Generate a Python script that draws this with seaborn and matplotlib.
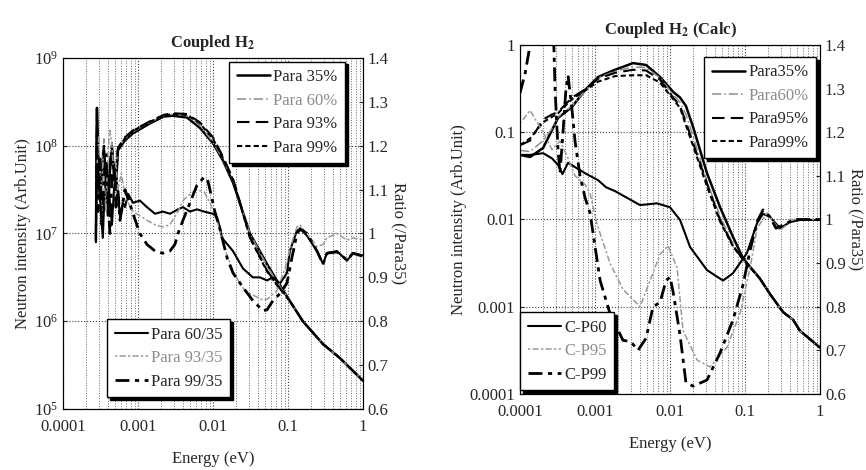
import matplotlib
matplotlib.use("Agg")
import matplotlib.pyplot as plt
from matplotlib.ticker import LogLocator, NullLocator
import seaborn as sns

# ---- left panel: measured spectra (Coupled H2) ----
e_spec_left = [2.75e-4, 2.84e-4, 2.93e-4, 3.11e-4, 3.31e-4, 3.52e-4, 3.74e-4, 3.98e-4,
               4.23e-4, 4.5e-4, 4.79e-4, 5.09e-4, 5.41e-4, 6.7e-4, 8.6e-4, 1.45e-3,
               2.2e-3, 2.9e-3, 4.5e-3, 6.7e-3, 1.0e-2, 1.36e-2, 1.85e-2, 2.09e-2,
               3.11e-2, 5.25e-2, 7.13e-2, 0.106, 0.158, 0.293, 0.494, 1.0]
para35 = [8.3e6, 2.7e8, 6.8e7, 2.4e7, 4.6e7, 8.9e7, 3.1e7, 1.6e7, 5.2e7, 8.9e7, 4.6e7,
          3.5e7, 8.9e7, 1.15e8, 1.39e8, 1.8e8, 2.15e8, 2.2e8, 2.1e8, 1.6e8, 1.07e8,
          6.8e7, 3.8e7, 2.8e7, 1.0e7, 4.5e6, 2.9e6, 1.7e6, 1.0e6, 5.5e5, 3.8e5, 2.1e5]
para60 = [1.2e7, 1.9e8, 9e7, 4e7, 7e7, 1.2e8, 5e7, 3e7, 8e7, 1.1e8, 6e7, 5e7, 9.5e7,
          1.2e8, 1.45e8, 1.85e8, 2.2e8, 2.3e8, 2.2e8, 1.7e8, 1.1e8, 7e7, 4.0e7, 2.9e7,
          1.0e7, 4.3e6, 2.8e6, 1.7e6, 1.0e6, 5.5e5, 3.8e5, 2.1e5]
para93 = [1.0e7, 2.2e8, 8e7, 3.2e7, 5.5e7, 1.0e8, 4e7, 2.5e7, 6.5e7, 1.0e8, 5.5e7, 4.5e7,
          9.5e7, 1.25e8, 1.5e8, 1.9e8, 2.25e8, 2.35e8, 2.3e8, 1.85e8, 1.25e8, 7.5e7,
          4.2e7, 3.0e7, 9e6, 3.8e6, 2.6e6, 1.7e6, 1.0e6, 5.5e5, 3.8e5, 2.1e5]
para99 = [9e6, 2.4e8, 7.5e7, 3e7, 5e7, 9.5e7, 3.5e7, 2e7, 6e7, 9.5e7, 5e7, 4e7, 9e7,
          1.22e8, 1.48e8, 1.88e8, 2.2e8, 2.3e8, 2.25e8, 1.8e8, 1.2e8, 7.2e7, 4.1e7,
          2.9e7, 9e6, 3.7e6, 2.6e6, 1.7e6, 1.0e6, 5.5e5, 3.8e5, 2.1e5]

# ---- left panel: ratios ----
e_r60 = [2.75e-4, 2.84e-4, 3.0e-4, 3.2e-4, 3.4e-4, 3.6e-4, 3.98e-4, 4.23e-4, 4.5e-4,
         4.79e-4, 5.09e-4, 5.41e-4, 5.75e-4, 6.3e-4, 6.7e-4, 7.4e-4, 8.6e-4, 1.06e-3,
         1.32e-3, 1.69e-3, 2.15e-3, 2.67e-3, 3.42e-3, 3.98e-3, 4.94e-3, 6.12e-3, 7.59e-3,
         1.0e-2, 1.13e-2, 1.24e-2, 1.32e-2, 1.85e-2, 2.52e-2, 3.41e-2, 4.23e-2, 5.25e-2,
         6.31e-2, 7.82e-2, 9.7e-2, 0.106, 0.132, 0.154, 0.179, 0.244, 0.293, 0.331, 0.45,
         0.612, 0.736, 1.0]
ratio60 = [0.98, 1.26, 1.14, 1.05, 0.99, 1.10, 1.13, 1.07, 1.02, 1.10, 1.14, 1.09, 1.04,
           1.07, 1.06, 1.09, 1.07, 1.075, 1.06, 1.045, 1.05, 1.045, 1.055, 1.06, 1.05,
           1.055, 1.05, 1.045, 1.037, 1.014, 0.99, 0.96, 0.92, 0.90, 0.90, 0.893, 0.90,
           0.886, 0.91, 0.96, 1.007, 1.007, 0.995, 0.96, 0.931, 0.955, 0.96, 0.938, 0.955,
           0.95]
e_r93 = [2.84e-4, 3.0e-4, 3.2e-4, 3.4e-4, 3.74e-4, 3.98e-4, 4.23e-4, 4.5e-4, 4.79e-4,
         5.09e-4, 5.41e-4, 6.0e-4, 6.7e-4, 7.4e-4, 8.6e-4, 1.06e-3, 1.32e-3, 1.69e-3,
         2.15e-3, 2.67e-3, 3.42e-3, 3.98e-3, 4.94e-3, 6.12e-3, 7.59e-3, 9.12e-3, 1.13e-2,
         1.32e-2, 1.54e-2, 1.85e-2, 2.29e-2, 2.67e-2, 3.11e-2, 3.86e-2, 4.64e-2, 5.25e-2,
         7.13e-2, 9.12e-2, 0.113, 0.132, 0.145, 0.158, 0.179, 0.244, 0.293, 0.331, 0.45,
         0.612, 0.736, 1.0]
ratio93 = [1.15, 1.22, 1.08, 1.17, 1.05, 1.19, 1.235, 1.2, 1.12, 1.16, 1.10, 1.137, 1.09,
           1.07, 1.05, 1.04, 1.03, 1.02, 1.015, 1.02, 1.05, 1.075, 1.09, 1.10, 1.095, 1.07,
           1.03, 0.99, 0.95, 0.915, 0.886, 0.87, 0.863, 0.855, 0.848, 0.85, 0.87, 0.92,
           0.98, 1.015, 1.02, 1.01, 1.0, 0.97, 0.975, 0.99, 1.0, 0.985, 0.99, 0.985]
e_r99 = [2.84e-4, 2.93e-4, 3.11e-4, 3.31e-4, 3.52e-4, 3.74e-4, 3.98e-4, 4.23e-4, 4.5e-4,
         4.79e-4, 5.09e-4, 5.41e-4, 5.75e-4, 6.3e-4, 6.7e-4, 7.4e-4, 8.6e-4, 1.06e-3,
         1.32e-3, 1.69e-3, 2.15e-3, 2.67e-3, 3.11e-3, 3.42e-3, 3.98e-3, 4.94e-3, 6.12e-3,
         7.59e-3, 8.4e-3, 9.12e-3, 1.06e-2, 1.24e-2, 1.54e-2, 1.85e-2, 2.52e-2, 3.41e-2,
         4.64e-2, 5.25e-2, 6.31e-2, 7.82e-2, 9.7e-2, 0.113, 0.132, 0.145, 0.179, 0.244,
         0.293, 0.331, 0.45, 0.612, 0.736, 1.0]
ratio99 = [1.20, 1.05, 1.17, 1.02, 1.12, 1.18, 1.08, 1.0, 1.13, 1.16, 1.06, 1.10, 1.03,
           1.07, 1.10, 1.08, 1.045, 1.0, 0.975, 0.96, 0.955, 0.96, 0.975, 1.0, 1.03, 1.07,
           1.11, 1.128, 1.125, 1.10, 1.05, 1.01, 0.945, 0.91, 0.877, 0.847, 0.824, 0.826,
           0.847, 0.863, 0.887, 0.945, 1.0, 1.011, 1.0, 0.96, 0.93, 0.955, 0.958, 0.94,
           0.955, 0.948]

# ---- right panel: calculated spectra ----
e_spec_right = [1e-4, 1.36e-4, 2.03e-4, 2.67e-4, 3.21e-4, 4.94e-4, 7.36e-4, 1.1e-3,
                1.85e-3, 3.21e-3, 4.79e-3, 7.36e-3, 1.1e-2, 1.36e-2, 1.63e-2, 2.03e-2,
                3.11e-2, 4.64e-2, 6.92e-2, 9.4e-2, 0.158, 0.215, 0.321, 0.437, 0.541, 1.0]
calc35 = [0.055, 0.052, 0.066, 0.106, 0.146, 0.195, 0.305, 0.43, 0.52, 0.62, 0.59, 0.43,
          0.29, 0.25, 0.2, 0.115, 0.034, 0.0139, 0.0063, 0.0036, 0.0021, 0.0014, 8.7e-4,
          7.1e-4, 5.3e-4, 3.4e-4]
calc60 = [0.062, 0.06, 0.08, 0.11, 0.15, 0.2, 0.3, 0.42, 0.5, 0.56, 0.55, 0.42, 0.27,
          0.22, 0.16, 0.09, 0.027, 0.011, 0.0052, 0.0034, 0.0021, 0.0014, 8.7e-4, 7.1e-4,
          5.3e-4, 3.4e-4]
calc95 = [0.071, 0.08, 0.14, 0.16, 0.17, 0.25, 0.31, 0.41, 0.48, 0.52, 0.51, 0.4, 0.25,
          0.2, 0.13, 0.075, 0.026, 0.0099, 0.005, 0.0035, 0.0021, 0.0014, 8.7e-4, 7.1e-4,
          5.3e-4, 3.4e-4]
calc99 = [0.071, 0.085, 0.13, 0.15, 0.165, 0.24, 0.3, 0.38, 0.44, 0.45, 0.45, 0.37, 0.24,
          0.19, 0.12, 0.07, 0.024, 0.0095, 0.0049, 0.0035, 0.0021, 0.0014, 8.7e-4, 7.1e-4,
          5.3e-4, 3.4e-4]

# ---- right panel: ratios ----
e_cp60 = [1e-4, 1.36e-4, 2.03e-4, 2.67e-4, 3.21e-4, 3.68e-4, 4.37e-4, 5.41e-4, 7.36e-4,
          1.1e-3, 1.4e-3, 1.85e-3, 3.98e-3, 6.71e-3, 1.0e-2, 1.36e-2, 1.85e-2, 3.11e-2,
          5.09e-2, 6.92e-2, 0.106, 0.145, 0.174, 0.215, 0.293, 0.398, 0.541, 1.0]
cp60 = [1.148, 1.148, 1.152, 1.14, 1.125, 1.104, 1.13, 1.12, 1.106, 1.09, 1.074, 1.065,
        1.033, 1.037, 1.028, 0.999, 0.937, 0.884, 0.86, 0.877, 0.923, 0.992, 1.013, 1.006,
        0.98, 0.994, 0.999, 0.999]
e_cp95 = [1e-4, 1.36e-4, 2.03e-4, 2.67e-4, 3.41e-4, 4.37e-4, 5.41e-4, 7.36e-4, 8.58e-4,
          1.06e-3, 1.58e-3, 2.36e-3, 3.98e-3, 5.41e-3, 7.36e-3, 9.4e-3, 1.24e-2, 1.49e-2,
          2.29e-2, 3.41e-2, 5.75e-2, 8.58e-2, 0.117, 0.145, 0.197, 0.293, 0.437, 1.0]
cp95 = [1.22, 1.25, 1.2, 1.16, 1.18, 1.14, 1.1, 1.08, 1.06, 0.99, 0.9, 0.84, 0.8, 0.86,
        0.92, 0.94, 0.89, 0.746, 0.678, 0.662, 0.707, 0.785, 0.89, 0.98, 1.015, 0.975,
        1.0, 1.0]
e_cp99 = [1e-4, 1.17e-4, 1.36e-4, 1.6e-4, 2.6e-4, 2.8e-4, 2.93e-4, 3.21e-4, 3.41e-4,
          3.74e-4, 4.1e-4, 4.37e-4, 4.94e-4, 5.41e-4, 6.31e-4, 7.36e-4, 8.58e-4, 1.17e-3,
          1.58e-3, 2.36e-3, 3.0e-3, 3.74e-3, 4.79e-3, 5.93e-3, 7.36e-3, 8.85e-3, 1.0e-2,
          1.1e-2, 1.36e-2, 1.63e-2, 2.03e-2, 3.11e-2, 4.64e-2, 6.92e-2, 9.4e-2, 0.117,
          0.145, 0.174, 0.215, 0.259, 0.352, 0.437, 1.0]
cp99 = [1.29, 1.335, 1.40, 1.5, 1.5, 1.42, 1.3, 1.16, 1.106, 1.2, 1.3, 1.33, 1.25, 1.18,
        1.1, 1.05, 1.015, 0.86, 0.785, 0.723, 0.72, 0.70, 0.728, 0.8, 0.81, 0.86, 0.868,
        0.834, 0.735, 0.626, 0.618, 0.632, 0.694, 0.77, 0.85, 0.93, 0.995, 1.022, 1.006,
        0.98, 0.99, 1.0, 1.0]

energy_ticks = [1e-4, 1e-3, 1e-2, 1e-1, 1]
energy_labels = ["0.0001", "0.001", "0.01", "0.1", "1"]
ratio_ticks = [0.6, 0.7, 0.8, 0.9, 1.0, 1.1, 1.2, 1.3, 1.4]
ratio_labels = ["0.6", "0.7", "0.8", "0.9", "1", "1.1", "1.2", "1.3", "1.4"]
calc_ticks = [1e-4, 1e-3, 1e-2, 1e-1, 1]
calc_labels = ["0.0001", "0.001", "0.01", "0.1", "1"]

sns.set_style("white")
plt.rcParams["font.family"] = ["Liberation Serif", "DejaVu Serif"]
plt.rcParams["mathtext.fontset"] = "stix"
plt.rcParams["font.size"] = 12

SOLID = dict(color="black", linewidth=1.8, linestyle="-")
GRAY_DD = dict(color="0.55", linewidth=1.1, linestyle=(0, (6, 2, 1, 2)))
DASH = dict(color="black", linewidth=1.5, linestyle=(0, (6, 3)))
SHORT = dict(color="black", linewidth=1.5, linestyle=(0, (2.5, 1.5)))
R_SOLID = dict(color="black", linewidth=1.5, linestyle="-")
R_GRAY = dict(color="0.6", linewidth=1.1, linestyle=(0, (1.5, 1.5, 4, 1.5)))
R_DASHDOT = dict(color="black", linewidth=2.0, linestyle=(0, (5, 2, 1.5, 2)))


def draw(ax, e, v, style):
    sns.lineplot(x=e, y=v, ax=ax, sort=False, estimator=None, legend=False, **style)
    return ax.lines[-1]


def style_axes(ax, ax2, yticks, ylabels, ylim, title, log_labels):
    ax.set_xscale("log")
    ax.set_yscale("log")
    ax.set_xlim(1e-4, 1)
    ax.set_ylim(*ylim)
    ax.set_xticks(energy_ticks, energy_labels)
    ax.xaxis.set_minor_locator(LogLocator(base=10, subs=range(2, 10), numticks=20))
    ax.yaxis.set_minor_locator(NullLocator())
    if log_labels:
        ax.set_yticks(yticks, ylabels)
    else:
        ax.set_yticks(yticks)
    ax.grid(which="major", axis="both", linestyle=":", color="0.25", linewidth=0.8)
    ax.grid(which="minor", axis="x", linestyle=":", color="0.4", linewidth=0.7)
    ax.tick_params(which="both", direction="in", labelsize=12, length=3)
    ax.tick_params(axis="x", which="major", pad=7)
    ax.tick_params(which="minor", length=1.5)
    ax.set_xlabel("Energy (eV)", labelpad=12)
    ax.set_ylabel("Neutron intensity (Arb.Unit)", labelpad=2)
    ax.set_title(title, fontweight="bold", fontsize=12, pad=8)
    ax2.set_ylim(0.6, 1.4)
    ax2.set_yticks(ratio_ticks, ratio_labels)
    ax2.tick_params(direction="in", labelsize=12, length=3)
    ax2.set_ylabel("Ratio (/Para35)", rotation=270, labelpad=12)
    for a in (ax, ax2):
        for s in a.spines.values():
            s.set_color("black")
            s.set_linewidth(0.8)


def add_legend(ax, handles, labels, loc, anchor, gray):
    leg = ax.legend(handles, labels, loc=loc, bbox_to_anchor=anchor, borderaxespad=0,
                    frameon=True, fancybox=False, edgecolor="black", framealpha=1,
                    shadow={"color": "black", "alpha": 1}, handlelength=2.0,
                    handletextpad=0.2, labelspacing=0.45, borderpad=0.45, fontsize=12)
    leg.get_frame().set_linewidth(1.0)
    for t, g in zip(leg.get_texts(), gray):
        if g:
            t.set_color("0.55")
    return leg


fig = plt.figure(figsize=(8.66, 4.70), dpi=100)
axL = fig.add_axes([0.0727, 0.1298, 0.3464, 0.7468])
axR = fig.add_axes([0.6005, 0.1617, 0.3464, 0.7426])

# left panel
axL.set_xscale("log")
axL.set_yscale("log")
hL = [draw(axL, e_spec_left, para35, SOLID),
      draw(axL, e_spec_left, para60, GRAY_DD),
      draw(axL, e_spec_left, para93, DASH),
      draw(axL, e_spec_left, para99, SHORT)]
axL2 = axL.twinx()
hL2 = [draw(axL2, e_r60, ratio60, R_SOLID),
       draw(axL2, e_r93, ratio93, R_GRAY),
       draw(axL2, e_r99, ratio99, R_DASHDOT)]
style_axes(axL, axL2, [1e5, 1e6, 1e7, 1e8, 1e9], None, (1e5, 1e9),
           "Coupled H$_\\mathbf{2}$", False)
lg1 = add_legend(axL2, hL, ["Para 35%", "Para 60%", "Para 93%", "Para 99%"],
                 "upper right", (0.94, 0.99), [False, True, False, False])
axL2.add_artist(lg1)
add_legend(axL2, hL2, ["Para 60/35", "Para 93/35", "Para 99/35"],
           "lower left", (0.147, 0.034), [False, True, False])

# right panel
axR.set_xscale("log")
axR.set_yscale("log")
hR = [draw(axR, e_spec_right, calc35, SOLID),
      draw(axR, e_spec_right, calc60, GRAY_DD),
      draw(axR, e_spec_right, calc95, DASH),
      draw(axR, e_spec_right, calc99, SHORT)]
axR2 = axR.twinx()
hR2 = [draw(axR2, e_cp60, cp60, R_SOLID),
       draw(axR2, e_cp95, cp95, R_GRAY),
       draw(axR2, e_cp99, cp99, R_DASHDOT)]
style_axes(axR, axR2, calc_ticks, calc_labels, (1e-4, 1),
           "Coupled H$_\\mathbf{2}$ (Calc)", True)
lg2 = add_legend(axR2, hR, ["Para35%", "Para60%", "Para95%", "Para99%"],
                 "upper right", (0.987, 0.966), [False, True, False, False])
axR2.add_artist(lg2)
add_legend(axR2, hR2, ["C-P60", "C-P95", "C-P99"],
           "lower left", (0.0, 0.011), [False, True, False])

fig.savefig("out.png", dpi=100)
